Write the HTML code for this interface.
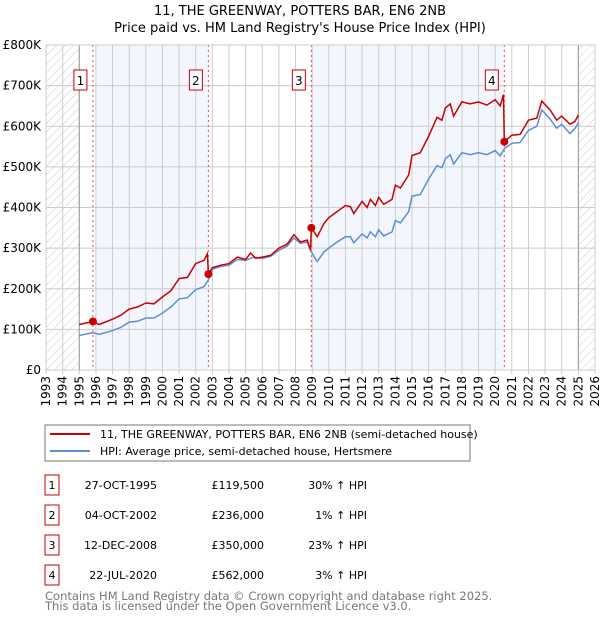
<!DOCTYPE html>
<html><head><meta charset="utf-8"><style>
body{margin:0;background:#fff;font-family:"DejaVu Sans","Liberation Sans",sans-serif;}
svg text{font-family:"DejaVu Sans","Liberation Sans",sans-serif;}
</style></head><body>
<svg id="c" width="600" height="620" xmlns="http://www.w3.org/2000/svg">
<defs><pattern id="hatch" width="6" height="6" patternUnits="userSpaceOnUse" patternTransform="rotate(45)"><line x1="0" y1="0" x2="0" y2="6" stroke="#ccc" stroke-width="1"/></pattern></defs>
<text x="300" y="15" text-anchor="middle" font-size="13">11, THE GREENWAY, POTTERS BAR, EN6 2NB</text>
<text x="300" y="32" text-anchor="middle" font-size="13">Price paid vs. HM Land Registry's House Price Index (HPI)</text>
<g id="plot"></g>
<rect x="45" y="425" width="425" height="36" fill="none" stroke="#777"/>
<line x1="50" y1="434" x2="90" y2="434" stroke="#cc0000" stroke-width="2"/>
<text x="100" y="438" font-size="11">11, THE GREENWAY, POTTERS BAR, EN6 2NB (semi-detached house)</text>
<line x1="50" y1="451" x2="90" y2="451" stroke="#5b8fd4" stroke-width="2"/>
<text x="100" y="455" font-size="11">HPI: Average price, semi-detached house, Hertsmere</text>
<g id="table" font-size="11"></g>
<text x="45" y="600" font-size="11.5" fill="#777">Contains HM Land Registry data © Crown copyright and database right 2025.</text>
<text x="45" y="610" font-size="11.5" fill="#777">This data is licensed under the Open Government Licence v3.0.</text>
</svg>
<script>
const hpiYears=[1995,1995.8,1996.2,1997,1997.5,1998,1998.5,1999,1999.5,2000,2000.5,2001,2001.5,2002,2002.5,2002.76,2003,2003.5,2004,2004.5,2005,2005.5,2006,2006.5,2007,2007.5,2007.9,2008.3,2008.7,2008.95,2009.3,2009.7,2010,2010.5,2011,2011.3,2011.5,2012,2012.3,2012.5,2012.8,2013,2013.3,2013.8,2014,2014.3,2014.8,2015,2015.5,2016,2016.5,2016.8,2017,2017.3,2017.5,2018,2018.5,2019,2019.5,2020,2020.3,2020.55,2021,2021.5,2022,2022.5,2022.8,2023.3,2023.7,2024,2024.5,2024.8,2025];
const hpiValues=[85,92,88,97,105,118,120,128,128,140,155,175,178,198,205,222,248,255,258,272,270,278,275,280,295,305,325,312,315,290,267,290,300,315,328,328,313,335,325,340,328,345,330,340,368,362,390,428,432,470,503,498,520,530,507,535,530,535,530,540,527,545,558,560,590,600,640,618,595,605,582,595,608];
const priceYears=[1995,1995.82,1996.2,1997,1997.5,1998,1998.5,1999,1999.5,2000,2000.5,2001,2001.5,2002,2002.5,2002.7,2002.76,2003,2003.5,2004,2004.5,2005,2005.3,2005.6,2006,2006.5,2007,2007.5,2007.9,2008.3,2008.7,2008.9,2008.95,2009.3,2009.7,2010,2010.5,2011,2011.3,2011.5,2012,2012.3,2012.5,2012.8,2013,2013.3,2013.8,2014,2014.3,2014.8,2015,2015.5,2016,2016.5,2016.8,2017,2017.3,2017.5,2018,2018.5,2019,2019.5,2020,2020.3,2020.5,2020.55,2021,2021.5,2022,2022.5,2022.8,2023.3,2023.7,2024,2024.5,2024.8,2025];
const priceValues=[112,119.5,112,125,135,150,155,165,163,180,195,225,228,262,270,286,236,252,258,262,278,272,288,275,278,282,300,310,333,315,320,295,350,328,360,375,390,405,402,385,415,400,420,405,425,408,420,455,448,480,528,535,575,622,615,645,655,625,660,655,660,652,665,650,678,562,578,580,615,620,662,640,615,625,605,612,628];
const saleLabels=["1","2","3","4"];
const saleYears=[1995.82,2002.76,2008.95,2020.55];
const saleValues=[119.5,236,350,562];
const saleDates=["27-OCT-1995","04-OCT-2002","12-DEC-2008","22-JUL-2020"];
const salePrices=["£119,500","£236,000","£350,000","£562,000"];
const salePct=["30% ↑ HPI","1% ↑ HPI","23% ↑ HPI","3% ↑ HPI"];
const yTicks=[0,100,200,300,400,500,600,700,800];
const yTickLabels=["£0","£100K","£200K","£300K","£400K","£500K","£600K","£700K","£800K"];
const xTicks=[1993,1994,1995,1996,1997,1998,1999,2000,2001,2002,2003,2004,2005,2006,2007,2008,2009,2010,2011,2012,2013,2014,2015,2016,2017,2018,2019,2020,2021,2022,2023,2024,2025,2026];
const X0=46,X1=595,Y0=370,Y1=45,xMin=1993,xMax=2026,yMax=800;
const sx=v=>X0+(v-xMin)/(xMax-xMin)*(X1-X0);
const sy=v=>Y0-v/yMax*(Y0-Y1);
const NS="http://www.w3.org/2000/svg";
const plot=document.getElementById('plot');
function mk(tag,attrs,parent){const e=document.createElementNS(NS,tag);for(const k in attrs)e.setAttribute(k,attrs[k]);(parent||plot).appendChild(e);return e;}
let e;
e=mk('rect',{x:X0,y:Y1,width:X1-X0,height:Y0-Y1,fill:'#fff'});


e=mk('rect',{x:sx(1996),y:Y1,width:sx(saleYears[1])-sx(1996),height:Y0-Y1,fill:'#f3f7fd'});


e=mk('rect',{x:sx(saleYears[2]),y:Y1,width:sx(saleYears[3])-sx(saleYears[2]),height:Y0-Y1,fill:'#f3f7fd'});


xTicks.forEach(t=>{const l=mk('line',{x1:sx(t),x2:sx(t),y1:Y1,y2:Y0+4,stroke:'#ccc'});


const tx=mk('text',{x:0,y:0,'font-size':12,'text-anchor':'end',transform:`translate(${sx(t)+4},${Y0+6}) rotate(-90)`});tx.textContent=t;

});
yTicks.forEach((t,i)=>{const l=mk('line',{x1:X0,x2:X1,y1:sy(t),y2:sy(t),stroke:'#ccc'});


const tx=mk('text',{x:X0-5,y:sy(t)+4,'font-size':12,'text-anchor':'end'});tx.textContent=yTickLabels[i];

});
e=mk('rect',{x:X0,y:Y1,width:sx(1995)-X0,height:Y0-Y1,fill:'url(#hatch)'});


e=mk('rect',{x:sx(2025),y:Y1,width:X1-sx(2025),height:Y0-Y1,fill:'url(#hatch)'});


e=mk('line',{x1:sx(1995),x2:sx(1995),y1:Y1,y2:Y0,stroke:'#999'});


e=mk('line',{x1:sx(2025),x2:sx(2025),y1:Y1,y2:Y0,stroke:'#999'});


saleYears.forEach((s,i)=>{const l=mk('line',{x1:sx(s),x2:sx(s),y1:Y1,y2:Y0,stroke:'#e05050','stroke-dasharray':'2,3'});


const bx=sx(s)-13;const r=mk('rect',{x:bx-6,y:70,width:13,height:20,fill:'#fff',stroke:'#cc0000'});


const t=mk('text',{x:bx+0.5,y:85,'font-size':12,'text-anchor':'middle'});t.textContent=saleLabels[i];

});
const pts=(xs,ys)=>xs.map((x,i)=>sx(x).toFixed(1)+','+sy(ys[i]).toFixed(1)).join(' ');
e=mk('polyline',{points:pts(hpiYears,hpiValues),fill:'none',stroke:'#5b8fd4','stroke-width':1.5});


e=mk('polyline',{points:pts(priceYears,priceValues),fill:'none',stroke:'#cc0000','stroke-width':1.5});


saleYears.forEach((s,i)=>{const c=mk('circle',{cx:sx(s),cy:sy(saleValues[i]),r:4,fill:'#cc0000'});

});
e=mk('rect',{x:X0,y:Y1,width:X1-X0,height:Y0-Y1,fill:'none',stroke:'#ccc'});


const tb=document.getElementById('table');
saleLabels.forEach((lab,i)=>{const y=483+i*30;
const r=mk('rect',{x:45,y:y-8,width:14,height:20,fill:'#fff',stroke:'#cc0000'},tb);


const vals=[[52,lab,'middle'],[157,saleDates[i],'end'],[264,salePrices[i],'end'],[367,salePct[i],'end']];
vals.forEach(v=>{const t=mk('text',{x:v[0],y:y+6,'text-anchor':v[2]},tb);t.textContent=v[1];

});});
</script>
</body></html>
